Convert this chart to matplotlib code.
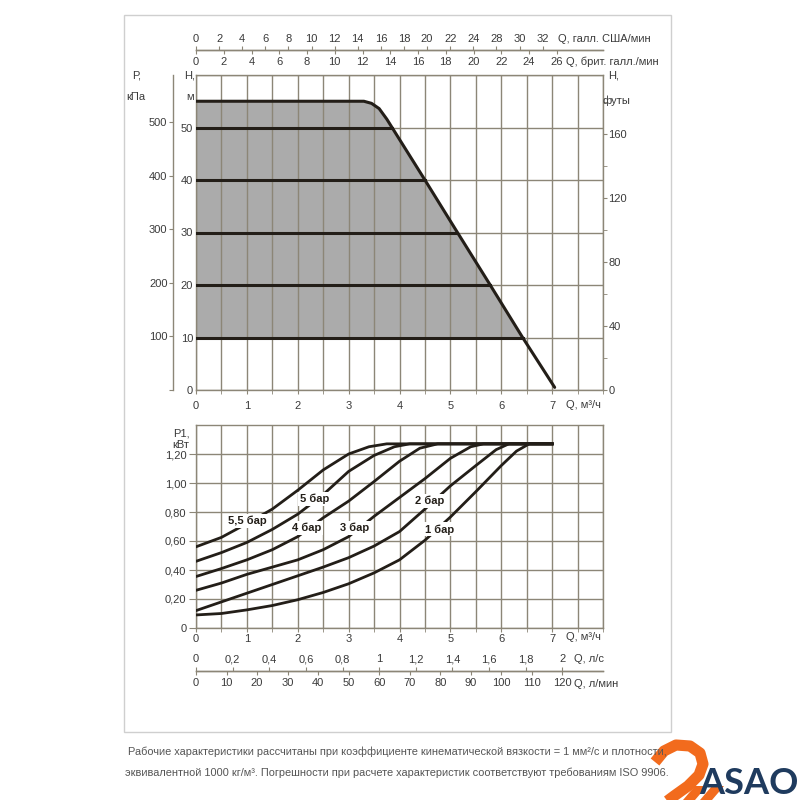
import numpy as np
import matplotlib
matplotlib.use('Agg')
import matplotlib.pyplot as plt
from matplotlib.lines import Line2D
from matplotlib.patches import Polygon, Rectangle

plt.rcParams['font.family'] = ['Liberation Sans', 'DejaVu Sans']
plt.rcParams['font.size'] = 8

# Характеристика насоса: напор H (м) от подачи Q (м3/ч)
q_head = [0, 3.3, 3.45, 3.6, 3.75, 4.5, 5.12, 5.77, 6.42, 7.05]
h_head = [55, 55, 54.6, 53.6, 51.6, 40, 30.3, 20.2, 10, 0.5]
set_heads = [10, 20, 30, 40, 50]

# Потребляемая мощность P1 (кВт) для разных давлений
p1_labels = ['1 бар', '2 бар', '3 бар', '4 бар', '5 бар', '5,5 бар']
q_1bar = [0, 0.5, 1, 1.5, 2, 2.5, 3, 3.5, 4, 4.5, 5, 5.5, 6, 6.3, 6.55, 7.0]
p_1bar = [0.09, 0.10, 0.125, 0.155, 0.195, 0.245, 0.305, 0.38, 0.47, 0.605, 0.765, 0.94, 1.12, 1.22, 1.27, 1.27]
q_2bar = [0, 0.5, 1, 1.5, 2, 2.5, 3, 3.5, 4, 4.5, 5, 5.5, 5.9, 6.15, 7.0]
p_2bar = [0.12, 0.18, 0.24, 0.30, 0.36, 0.42, 0.485, 0.565, 0.665, 0.82, 0.98, 1.12, 1.23, 1.27, 1.27]
q_3bar = [0, 0.5, 1, 1.5, 2, 2.5, 3, 3.5, 4, 4.5, 5, 5.4, 5.65, 7.0]
p_3bar = [0.26, 0.31, 0.37, 0.42, 0.47, 0.54, 0.63, 0.77, 0.90, 1.03, 1.17, 1.25, 1.27, 1.27]
q_4bar = [0, 0.5, 1, 1.5, 2, 2.5, 3, 3.5, 4, 4.4, 4.75, 7.0]
p_4bar = [0.355, 0.41, 0.47, 0.54, 0.63, 0.76, 0.875, 1.01, 1.15, 1.24, 1.27, 1.27]
q_5bar = [0, 0.5, 1, 1.5, 2, 2.5, 3, 3.5, 3.9, 4.2, 7.0]
p_5bar = [0.46, 0.52, 0.59, 0.68, 0.785, 0.92, 1.08, 1.19, 1.25, 1.27, 1.27]
q_55bar = [0, 0.5, 1, 1.5, 2, 2.5, 3, 3.4, 3.75, 7.0]
p_55bar = [0.56, 0.625, 0.72, 0.82, 0.95, 1.09, 1.20, 1.25, 1.27, 1.27]
label_q = [4.78, 4.59, 3.12, 2.17, 2.33, 1.0]
label_p = [0.68, 0.875, 0.69, 0.69, 0.89, 0.74]

# Шкалы
q_ticks = [0, 1, 2, 3, 4, 5, 6, 7]
h_ticks = [0, 10, 20, 30, 40, 50]
kpa_ticks = [0, 100, 200, 300, 400, 500]
ft_ticks = [0, 40, 80, 120, 160]
p1_ticks = [0, 0.2, 0.4, 0.6, 0.8, 1.0, 1.2]
p1_ticklabels = ['0', '0,20', '0,40', '0,60', '0,80', '1,00', '1,20']
us_gal = [0, 2, 4, 6, 8, 10, 12, 14, 16, 18, 20, 22, 24, 26, 28, 30]
us_gal_labels = ['0', '2', '4', '6', '8', '10', '12', '14', '16', '18', '20', '22', '24', '28', '30', '32']
uk_gal = [0, 2, 4, 6, 8, 10, 12, 14, 16, 18, 20, 22, 24, 26]
l_s = [0, 0.2, 0.4, 0.6, 0.8, 1.0, 1.2, 1.4, 1.6, 1.8, 2.0]
l_s_labels = ['0', '0,2', '0,4', '0,6', '0,8', '1', '1,2', '1,4', '1,6', '1,8', '2']
l_min = [0, 10, 20, 30, 40, 50, 60, 70, 80, 90, 100, 110, 120]

GRID = '#8c8677'
INK = '#231e18'
TXT = '#3a3a3a'
W, H = 800, 800
FS = 8


def box(x0, y0, x1, y1):
    # пиксели (от верхнего левого угла) -> доли фигуры
    return [x0 / W, 1 - y1 / H, (x1 - x0) / W, (y1 - y0) / H]


def ftext(x, y, s, **kw):
    kw.setdefault('color', TXT)
    kw.setdefault('va', 'center')
    kw.setdefault('fontsize', FS)
    return fig.text(x / W, 1 - y / H, s, **kw)


def style_spines(ax, visible):
    for k, sp in ax.spines.items():
        sp.set_visible(k in visible)
        sp.set_color(GRID)
        sp.set_linewidth(1)


fig = plt.figure(figsize=(8, 8), dpi=100)
fig.patches.append(Rectangle((124 / W, 1 - 732 / H), 547 / W, 717 / H, transform=fig.transFigure,
                             fill=False, edgecolor='#cfcfcf', linewidth=1))

# ---- верхний график: H(Q)
ax = fig.add_axes(box(196, 75, 603, 390))
ax.set_xlim(0, 8)
ax.set_ylim(0, 60)
ax.set_xticks(q_ticks)
ax.set_xticks(np.arange(0, 8.01, 0.5), minor=True)
ax.set_yticks(h_ticks + [60])
ax.set_yticklabels([str(v) for v in h_ticks] + [''])
ax.grid(which='both', axis='x', color=GRID, linewidth=1)
ax.grid(which='major', axis='y', color=GRID, linewidth=1)
ax.set_axisbelow(False)
ax.tick_params(axis='x', which='both', direction='out', length=3, color=GRID, labelsize=FS, labelcolor=TXT, pad=5)
ax.tick_params(axis='y', length=0, labelsize=FS, labelcolor=TXT, pad=2)
style_spines(ax, ['left', 'right', 'top', 'bottom'])

hh = np.array(h_head)
ax.fill_between(q_head, 10, h_head, where=hh >= 10, interpolate=True, color='#ababab', linewidth=0, zorder=1)
ax.plot(q_head, h_head, color=INK, linewidth=2.2, zorder=4, solid_capstyle='round')
for lvl in set_heads:
    q_end = np.interp(lvl, hh[::-1], np.array(q_head)[::-1])
    ax.plot([0, q_end], [lvl, lvl], color=INK, linewidth=2.2, zorder=4)

# шкала кПа
axp = fig.add_axes(box(173, 75, 173.01, 390))
axp.set_ylim(0, 60)
axp.set_xticks([])
axp.set_yticks([v / 9.81 for v in kpa_ticks])
axp.set_yticklabels(['' if v == 0 else str(v) for v in kpa_ticks])
axp.tick_params(axis='y', direction='out', length=3, color=GRID, labelsize=FS, labelcolor=TXT, pad=1)
style_spines(axp, ['left'])
axp.patch.set_visible(False)

# шкала футов
axf = ax.twinx()
axf.set_ylim(0, 60 * 3.28084)
axf.set_yticks(ft_ticks)
axf.set_yticks(np.arange(0, 181, 20), minor=True)
axf.tick_params(axis='y', which='both', direction='out', length=3, color=GRID, labelsize=FS, labelcolor=TXT, pad=1)
style_spines(axf, [])

# шкалы галлонов
axg = fig.add_axes(box(196, 50, 603, 50.01))
axg.set_xlim(0, 8)
axg.set_yticks([])
axg.set_xticks([v / 3.666 for v in uk_gal])
axg.set_xticklabels([str(v) for v in uk_gal])
axg.tick_params(axis='x', direction='out', length=3, color=GRID, labelsize=FS, labelcolor=TXT, pad=2)
style_spines(axg, ['bottom'])
axg.patch.set_visible(False)
axgu = axg.twiny()
axgu.set_xlim(0, 8)
axgu.set_xticks([v / 4.403 for v in us_gal])
axgu.set_xticklabels(us_gal_labels)
axgu.tick_params(axis='x', direction='out', length=3, color=GRID, labelsize=FS, labelcolor=TXT, pad=1)
style_spines(axgu, ['top'])

# ---- нижний график: P1(Q)
ax2 = fig.add_axes(box(196, 425, 603, 628))
ax2.set_xlim(0, 8)
ax2.set_ylim(0, 1.4)
ax2.set_xticks(q_ticks)
ax2.set_xticks(np.arange(0, 8.01, 0.5), minor=True)
ax2.set_yticks(p1_ticks)
ax2.set_yticklabels(p1_ticklabels)
ax2.grid(which='both', axis='x', color=GRID, linewidth=1)
ax2.grid(which='major', axis='y', color=GRID, linewidth=1)
ax2.tick_params(axis='x', which='both', direction='out', length=3, color=GRID, labelsize=FS, labelcolor=TXT, pad=1.5)
ax2.tick_params(axis='y', direction='out', length=5, color=GRID, labelsize=FS, labelcolor=TXT, pad=2)
style_spines(ax2, ['left', 'right', 'top', 'bottom'])

curves = [(q_1bar, p_1bar), (q_2bar, p_2bar), (q_3bar, p_3bar),
          (q_4bar, p_4bar), (q_5bar, p_5bar), (q_55bar, p_55bar)]
for (q, p) in curves:
    ax2.plot(q, p, color=INK, linewidth=2.0, zorder=3, solid_joinstyle='round')
for name, lq, lp in zip(p1_labels, label_q, label_p):
    ax2.text(lq, lp, name, ha='center', va='center', fontsize=FS, fontweight='bold', color=INK, zorder=5,
             bbox=dict(boxstyle='square,pad=0.15', facecolor='white', edgecolor='none'))

# шкалы л/с и л/мин
axl = fig.add_axes(box(196, 671, 603, 671.01))
axl.set_xlim(0, 8)
axl.set_yticks([])
axl.set_xticks([v * 0.06 for v in l_min])
axl.set_xticklabels([str(v) for v in l_min])
axl.tick_params(axis='x', direction='out', length=3, color=GRID, labelsize=FS, labelcolor=TXT, pad=2)
style_spines(axl, ['bottom'])
axl.patch.set_visible(False)
axls = axl.twiny()
axls.set_xlim(0, 8)
axls.set_xticks([v * 3.6 for v in l_s])
axls.set_xticklabels(l_s_labels)
axls.tick_params(axis='x', direction='out', length=3, color=GRID, labelsize=FS, labelcolor=TXT, pad=2)
style_spines(axls, ['top'])

# подписи осей
ftext(558, 39, 'Q, галл. США/мин')
ftext(566, 62, 'Q, брит. галл./мин')
ftext(137, 75, 'P,', ha='center')
ftext(136, 97, 'кПа', ha='center')
ftext(190, 75, 'H,', ha='center')
ftext(190, 97, 'м', ha='center')
ftext(614, 76, 'H,', ha='center')
ftext(616, 101, 'футы', ha='center')
ftext(566, 405, 'Q, м³/ч')
ftext(181, 434, 'P1,', ha='center')
ftext(181, 445, 'кВт', ha='center')
ftext(566, 637, 'Q, м³/ч')
ftext(574, 659, 'Q, л/с')
ftext(574, 684, 'Q, л/мин')

# примечание
ftext(397, 752, 'Рабочие характеристики рассчитаны при коэффициенте кинематической вязкости = 1 мм²/с и плотности,',
      fontsize=7.9, ha='center', color='#555555')
ftext(397, 773, 'эквивалентной 1000 кг/м³. Погрешности при расчете характеристик соответствуют требованиям ISO 9906.',
      fontsize=7.9, ha='center', color='#555555')

# логотип
ORANGE = '#f26b1d'
px = np.array([655, 664, 676, 690, 700, 703, 699, 688, 674, 662])
py = np.array([762, 751, 745, 746, 753, 764, 775, 786, 796, 805])
fig.add_artist(Line2D(px / W, 1 - py / H, transform=fig.transFigure, color=ORANGE, linewidth=8,
                      solid_capstyle='butt', solid_joinstyle='round'))
for dx in (0, 17):
    pts = np.array([[683 + dx, 800], [695 + dx, 786], [707 + dx, 786], [695 + dx, 800]])
    fig.add_artist(Polygon(np.column_stack([pts[:, 0] / W, 1 - pts[:, 1] / H]), closed=True,
                           transform=fig.transFigure, facecolor=ORANGE, edgecolor='none'))
fig.text(749 / W, 1 - 784 / H, 'ASAO', fontsize=26, fontweight='bold', color='#1f3b5e',
         ha='center', va='center', family=['Lato', 'DejaVu Sans'])

fig.savefig('out.png', dpi=100, facecolor='white')
